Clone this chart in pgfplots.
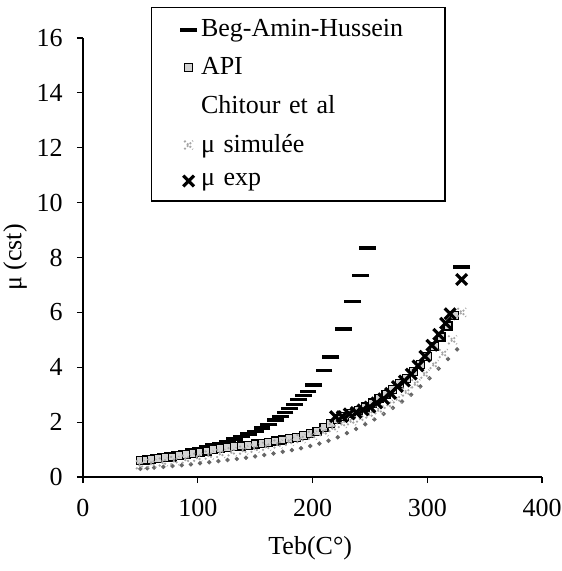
\documentclass[12pt,border=0pt]{standalone}
\usepackage{fontspec}
\setmainfont{Liberation Serif}
\usepackage{pgfplots}
\pgfplotsset{compat=1.18}
\begin{document}
\begin{tikzpicture}[font=\fontsize{13}{15.6}\selectfont]
\useasboundingbox (-41.5pt,-47pt) rectangle (239pt,238.5pt);
\begin{axis}[
  scale only axis, width=229.5pt, height=219.5pt,
  xmin=0, xmax=400, ymin=0, ymax=16,
  xtick={0,100,200,300,400}, ytick={0,2,...,16},
  axis x line=bottom, axis y line=left,
  axis line style={-, line width=0.8pt},
  tick align=outside, major tick length=3pt,
  tick style={line width=0.6pt, black},
  /pgf/number format/assume math mode=true,
  yticklabel style={xshift=-3pt},
  xticklabel style={yshift=-4pt},
  xlabel={Teb(C°)}, ylabel={μ (cst)},
  xlabel style={at={(axis description cs:0.495,-0.162)}, anchor=center},
  ylabel style={at={(axis description cs:-0.148,0.5)}, anchor=center},
  legend style={at={(axis description cs:0.148,1.071)}, anchor=north west,
    draw=black, line width=0.6pt, fill=white, legend cell align=left,
    row sep=4.6pt, inner xsep=10pt, inner ysep=4pt,
    /tikz/column 2/.style={nodes={text width=110pt, align=left}}},
  legend image post style={line width=1.5pt},
]
% Beg-Amin-Hussein
\addplot[only marks, mark=-, mark size=4.2pt, mark options={line width=1.7pt}, black] coordinates {
(61,0.75)(66,0.78)(72,0.82)(78,0.86)(84,0.9)(90,0.94)(96,0.98)(102,1.03)(108,1.1)
(114,1.16)(120,1.22)(126,1.3)(132,1.38)(138,1.47)(144,1.56)(150,1.66)(156,1.78)
(162,1.92)(168,2.08)(172,2.2)(176,2.35)(180,2.5)(184,2.65)(188,2.82)(192,2.97)
(196,3.11)(201,3.36)(210,3.88)(216,4.37)(227,5.4)(235,6.4)(242,7.35)(248,8.35)(330,7.66)};
\addlegendentry{Beg-Amin-Hussein}
% API
\addplot[only marks, mark=square*, mark size=2pt, mark options={fill=gray!35, draw=black, line width=0.6pt}] coordinates {
(50,0.6)(55,0.62)(60,0.64)(66,0.66)(72,0.7)(78,0.73)(84,0.77)(90,0.81)(96,0.85)(102,0.9)
(108,0.95)(114,1.0)(120,1.03)(126,1.07)(132,1.1)(138,1.13)(144,1.16)(150,1.2)(156,1.23)
(162,1.27)(168,1.31)(174,1.35)(180,1.4)(186,1.44)(192,1.5)(198,1.58)(204,1.66)(210,1.8)
(216,1.95)(222,2.1)(228,2.2)(234,2.3)(240,2.42)(246,2.55)(252,2.7)(258,2.85)(264,3.0)
(270,3.2)(276,3.4)(282,3.6)(288,3.85)(294,4.1)(300,4.4)(306,4.75)(312,5.1)(318,5.5)(324,5.9)};
\addlegendentry{API}
% Chitour et al
\addplot[only marks, mark=*, mark size=0.9pt, mark options={fill=black!60, draw=black!60}, legend image code/.code={}] coordinates {
(50,0.3)(56,0.32)(62,0.34)(70,0.37)(78,0.4)(86,0.43)(94,0.46)(102,0.5)(110,0.54)(118,0.58)
(126,0.62)(134,0.66)(142,0.7)(150,0.75)(158,0.8)(166,0.86)(174,0.92)(182,0.98)(190,1.05)
(198,1.13)(206,1.22)(214,1.32)(222,1.45)(230,1.6)(238,1.75)(246,1.92)(254,2.1)(262,2.3)
(270,2.52)(278,2.75)(286,3.0)(294,3.3)(302,3.6)(310,3.95)(318,4.3)(326,4.65)};
\addlegendentry{Chitour et al}
% mu simulee
\addplot[only marks, mark=x, mark size=3pt, mark options={draw=gray!70, line width=0.9pt, densely dotted}] coordinates {
(50,0.45)(60,0.5)(70,0.55)(80,0.6)(90,0.65)(100,0.72)(110,0.8)(120,0.86)(130,0.92)
(140,0.98)(150,1.05)(160,1.12)(170,1.2)(180,1.3)(190,1.4)(200,1.52)(210,1.65)(218,1.8)
(226,1.95)(234,2.05)(242,2.15)(250,2.3)(258,2.45)(266,2.65)(274,2.85)(282,3.1)(290,3.4)
(298,3.75)(306,4.1)(314,4.5)(322,5.0)(330,6.0)};
\addlegendentry{μ simulée}
% mu exp
\addplot[only marks, mark=x, mark size=3.8pt, mark options={draw=black, line width=1.6pt}] coordinates {
(220,2.2)(226,2.2)(232,2.3)(238,2.35)(244,2.45)(250,2.55)(256,2.7)(262,2.85)(268,3.05)
(274,3.3)(280,3.5)(286,3.75)(292,4.05)(298,4.4)(304,4.8)(310,5.2)(316,5.6)(320,5.95)(330,7.2)};
\addlegendentry{μ exp}
\end{axis}
\end{tikzpicture}
\end{document}
